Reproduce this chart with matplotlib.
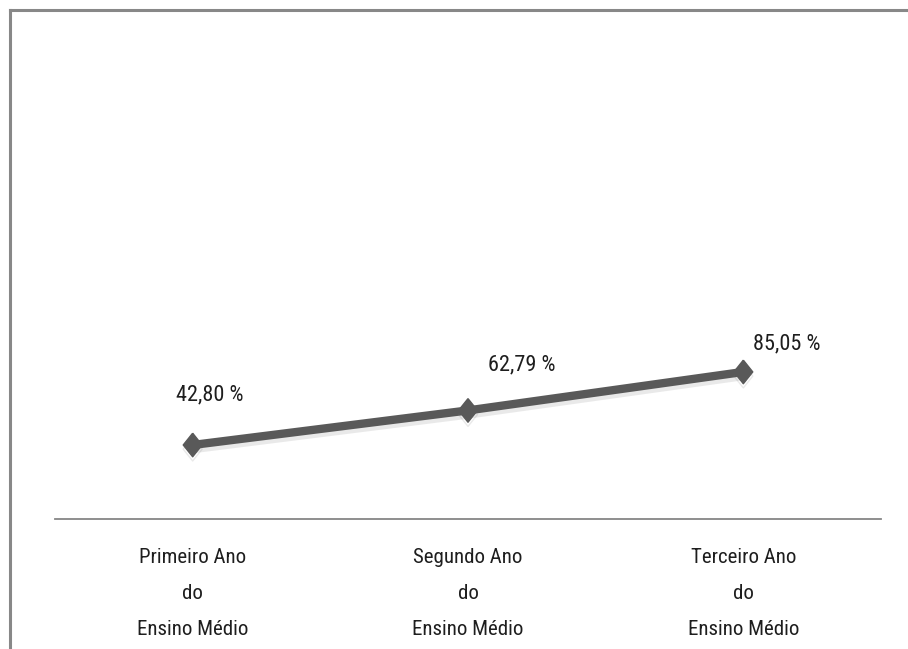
import matplotlib
matplotlib.use('Agg')
import matplotlib.pyplot as plt
import matplotlib.font_manager as fm
import matplotlib.patheffects as pe
from matplotlib.lines import Line2D

# pick a condensed face close to the original narrow font
names = {f.name for f in fm.fontManager.ttflist}
narrow = 'DejaVu Sans'
for n in ['Liberation Sans Narrow', 'Roboto Condensed', 'Open Sans Condensed', 'Roboto']:
    if n in names:
        narrow = n
        break
plt.rcParams['font.family'] = [narrow, 'DejaVu Sans']

# data
categories = ['Primeiro Ano\ndo\nEnsino Médio',
              'Segundo Ano\ndo\nEnsino Médio',
              'Terceiro Ano\ndo\nEnsino Médio']
values = [42.80, 62.79, 85.05]
value_labels = ['42,80 %', '62,79 %', '85,05 %']

# label offsets in points (manual placement like the original)
label_offsets = [(12, 36), (39, 33), (31, 20)]

W, H = 908, 649
fig = plt.figure(figsize=(W / 100, H / 100), dpi=100)
fig.patch.set_facecolor('white')

# plot area: x 55..881 px, y baseline at 519 px
ax = fig.add_axes([55 / W, 1 - 519 / H, (881 - 55) / W, (519 - 40) / H])
x = list(range(len(values)))
diamond = [(0, 1), (0.8, 0), (0, -1), (-0.8, 0), (0, 1)]
shadow = [pe.SimpleLineShadow(offset=(0, -3), alpha=0.15, shadow_color='#707070'), pe.Normal()]
ax.plot(x, values, color='#595959', linewidth=6, marker=diamond, markersize=17,
        markerfacecolor='#595959', markeredgecolor='#595959',
        solid_capstyle='butt', path_effects=shadow)

for xi, v, lab, off in zip(x, values, value_labels, label_offsets):
    ax.annotate(lab, (xi, v), xytext=off, textcoords='offset points',
                ha='center', va='center', fontsize=16, color='#1e1e1e')

ax.set_xlim(-0.5, 2.5)
ax.set_ylim(0, 277)
ax.set_yticks([])
ax.set_xticks(x)
ax.set_xticklabels(categories, fontsize=15, color='#1e1e1e', linespacing=2.12)
ax.tick_params(axis='x', length=0, pad=21)
for s in ['top', 'right', 'left']:
    ax.spines[s].set_visible(False)
ax.spines['bottom'].set_color('#868686')
ax.spines['bottom'].set_linewidth(1.3)

# outer frame (only top and left are visible in the crop)
fig.add_artist(Line2D([10 / W, 1], [1 - 10 / H, 1 - 10 / H], color='#888888', linewidth=2.2))
fig.add_artist(Line2D([10 / W, 10 / W], [0, 1 - 10 / H], color='#888888', linewidth=2.2))

fig.savefig('out.png', dpi=100, facecolor='white')
